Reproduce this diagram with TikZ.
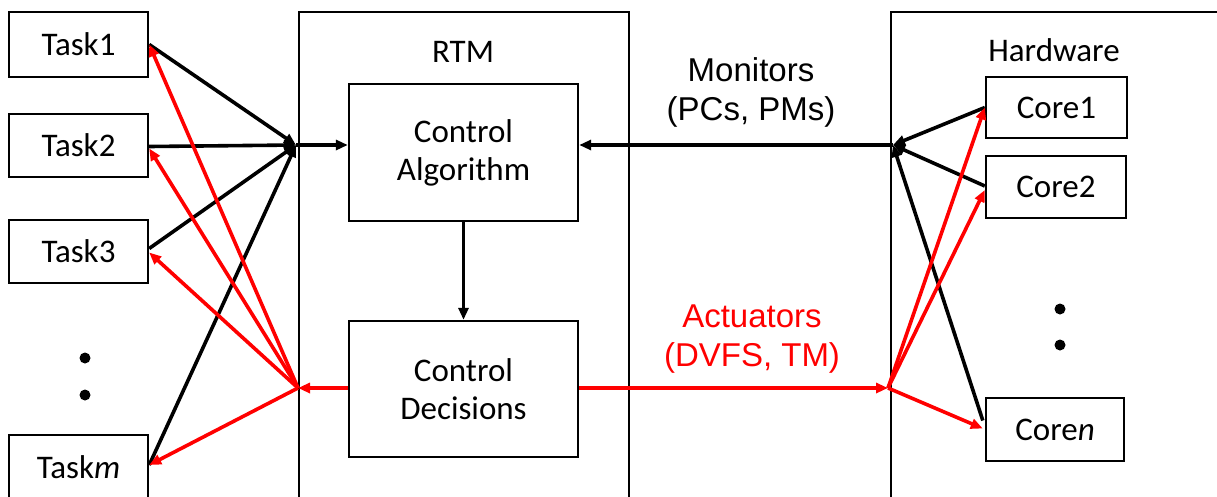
\documentclass[tikz,border=0pt]{standalone}
\usepackage{fontspec}
\setmainfont{Carlito}
\newfontfamily\arialfont{Liberation Sans}
\usetikzlibrary{arrows.meta,calc}
\begin{document}
\begin{tikzpicture}[x=1pt,y=-1pt,
  box/.style={draw,line width=2.4pt,inner sep=0pt,align=center,
              font=\fontsize{33}{38}\selectfont},
  frame/.style={draw,line width=2.2pt,inner sep=0pt},
  title/.style={font=\fontsize{33}{38}\selectfont},
  link/.style={line width=3.6pt,-{Triangle[length=12pt,width=10pt]}},
  blk/.style={link,draw=black},
  rlink/.style={link,draw=red},
  lbl/.style={align=center,font=\arialfont\fontsize{33}{39}\selectfont},
  dot/.style={fill=black}]
\clip (0,0) rectangle (1217,496);

% containers (run past the page edge)
\node[frame,minimum width=330pt,minimum height=508pt] (rtm) at (464,266) {};
\node[frame,minimum width=349pt,minimum height=508pt] (hw) at (1065.5,266) {};
\node[title] (rtmlbl) at (463,52) {RTM};
\node[title] (hwlbl) at (1054,50) {Hardware};

% tasks
\node[box,minimum width=139pt,minimum height=65pt] (t1) at (78.5,44.5) {Task1};
\node[box,minimum width=139pt,minimum height=63pt] (t2) at (78.5,145.5) {Task2};
\node[box,minimum width=139pt,minimum height=63pt] (t3) at (78.5,251.5) {Task3};
\node[box,minimum width=139pt,minimum height=64pt] (tm) at (78.5,467) {Task\textit{m}};
\fill[dot] (85,358) circle (5.5pt) (85,395) circle (5.5pt);

% runtime manager blocks
\node[box,minimum width=229pt,minimum height=137pt] (ca) at (463.5,152.5) {Control\\Algorithm};
\node[box,minimum width=229pt,minimum height=136pt] (cd) at (463.5,389) {Control\\Decisions};

% cores
\node[box,minimum width=141pt,minimum height=61pt] (c1) at (1056.5,107.5) {Core1};
\node[box,minimum width=140pt,minimum height=62pt] (c2) at (1056,187) {Core2};
\node[box,minimum width=138pt,minimum height=63pt] (cn) at (1055,429.5) {Core\textit{n}};
\fill[dot] (1060,309) circle (5.5pt) (1060,345) circle (5.5pt);

% junction points
\coordinate (lhub) at (296,145);
\coordinate (lred) at (298,388);
\coordinate (rhub) at (893,145);
\coordinate (rred) at (888,388);

% monitoring path (black)
\draw[blk] (t1.east) -- (lhub);
\draw[blk] ($(t2.east)+(0,1)$) -- (lhub);
\draw[blk] ($(t3.east)+(0,-3)$) -- (lhub);
\draw[blk] ($(tm.east)+(0,-2)$) -- (lhub);
\draw[blk] (lhub) -- (ca.west |- lhub);
\draw[blk] (c1.west) -- (rhub);
\draw[blk] ($(c2.west)+(0,-1)$) -- (rhub);
\draw[blk] ($(cn.west)+(-2,-9)$) -- (rhub);
\draw[blk] (rhub) -- (ca.east |- rhub);
\draw[blk] (ca.south) -- (cd.north);

% actuation path (red)
\draw[rlink] (cd.west |- lred) -- (lred);
\draw[rlink] (lred) -- (t1.east);
\draw[rlink] (lred) -- ($(t2.east)+(0,3)$);
\draw[rlink] (lred) -- ($(t3.east)+(0,1)$);
\draw[rlink] (lred) -- ($(tm.east)+(0,-2)$);
\draw[rlink] (cd.east |- rred) -- (rred);
\draw[rlink] (rred) -- (c1.west);
\draw[rlink] (rred) -- ($(c2.west)+(0,3)$);
\draw[rlink] (rred) -- ($(cn.west)+(-2,-1)$);

% interface labels
\node[lbl] (mon) at (751,92) {Monitors\\(PCs, PMs)};
\node[lbl,text=red] (act) at (752,339) {Actuators\\(DVFS, TM)};
\end{tikzpicture}
\end{document}
